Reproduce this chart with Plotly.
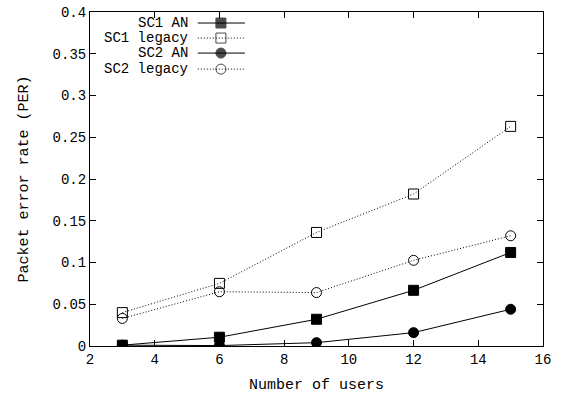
import plotly.graph_objects as go

users = [3, 6, 9, 12, 15]
sc1_an = [0.001, 0.0105, 0.032, 0.0667, 0.112]
sc1_legacy = [0.040, 0.075, 0.136, 0.182, 0.263]
sc2_an = [0.001, 0.0005, 0.004, 0.016, 0.044]
sc2_legacy = [0.033, 0.065, 0.064, 0.1026, 0.132]
names = ["SC1 AN", "SC1 legacy", "SC2 AN", "SC2 legacy"]
x_ticks = [2, 4, 6, 8, 10, 12, 14, 16]
y_ticks = [0, 0.05, 0.1, 0.15, 0.2, 0.25, 0.3, 0.35, 0.4]
y_tick_labels = ["0", "0.05", "0.1", "0.15", "0.2", "0.25", "0.3", "0.35", "0.4"]

FONT = "Liberation Mono, Courier New, monospace"
FS = 14
FS_T = 15
DOT = "1px,2px"
styles = [
    dict(dash="solid", symbol="square"),
    dict(dash=DOT, symbol="square-open"),
    dict(dash="solid", symbol="circle"),
    dict(dash=DOT, symbol="circle-open"),
]
series = [sc1_an, sc1_legacy, sc2_an, sc2_legacy]

fig = go.Figure()
for name, ys, st in zip(names, series, styles):
    fig.add_trace(go.Scatter(
        x=users, y=ys, mode="lines+markers", name=name, showlegend=False,
        line=dict(color="black", width=1, dash=st["dash"]),
        marker=dict(symbol=st["symbol"], size=10, color="black",
                    line=dict(color="black", width=1)),
    ))

# custom legend (text left of sample), in an overlay axis of 0..1 units
leg_y = [0.967, 0.922, 0.877, 0.829]
for name, st, ly in zip(names, styles, leg_y):
    fig.add_trace(go.Scatter(
        x=[0.238, 0.289, 0.342], y=[ly, ly, ly], mode="lines+markers",
        xaxis="x2", yaxis="y2", showlegend=False, hoverinfo="skip",
        line=dict(color="black", width=1, dash=st["dash"]),
        marker=dict(symbol=st["symbol"], size=[0, 10, 0], color="black",
                    line=dict(color="black", width=1)),
    ))
    fig.add_annotation(x=0.221, y=ly, xref="x2", yref="y2", text=name,
                       showarrow=False, xanchor="right", yanchor="middle",
                       font=dict(family=FONT, size=FS, color="black"))

axis_common = dict(
    showline=True, linecolor="black", linewidth=1, mirror="allticks",
    ticks="inside", ticklen=6, tickcolor="black", showgrid=False, zeroline=False,
    automargin=False, ticklabeloverflow="allow",
    tickfont=dict(family=FONT, size=FS, color="black"),
)
fig.update_layout(
    width=569, height=394,
    margin=dict(l=90, r=26, t=12, b=48),
    paper_bgcolor="white", plot_bgcolor="white",
    font=dict(family=FONT, size=FS, color="black"),
    xaxis=dict(range=[2, 16], tickvals=x_ticks,
               title=dict(text="Number of users", standoff=15,
                          font=dict(family=FONT, size=FS_T)),
               **axis_common),
    yaxis=dict(range=[0, 0.4], tickvals=y_ticks, ticktext=y_tick_labels,
               title=dict(text="Packet error rate (PER)", standoff=20,
                          font=dict(family=FONT, size=FS_T)),
               **axis_common),
    xaxis2=dict(range=[0, 1], overlaying="x", visible=False, fixedrange=True),
    yaxis2=dict(range=[0, 1], overlaying="y", visible=False, fixedrange=True),
    showlegend=False,
)
fig.write_html(
    "out.html",
    config={"displayModeBar": False},
    post_script="document.body.style.margin='0';document.body.style.overflow='hidden';",
)
